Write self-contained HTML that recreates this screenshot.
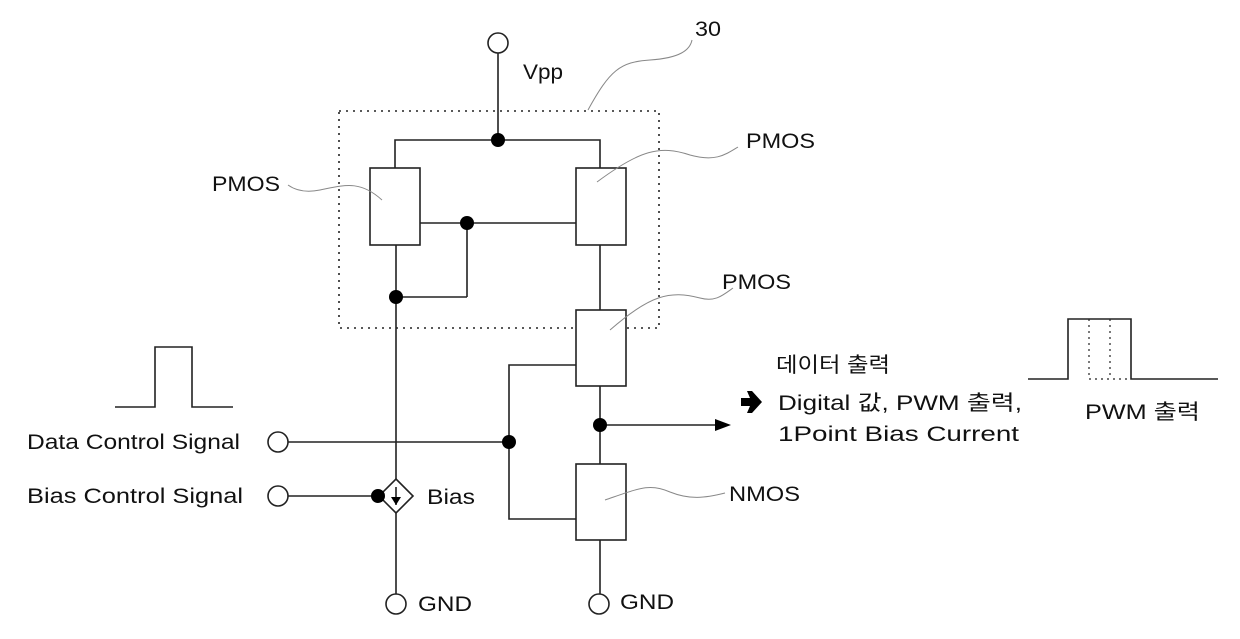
<!DOCTYPE html>
<html><head><meta charset="utf-8"><style>
html,body{margin:0;padding:0;background:#fff;}
svg{display:block}
text{font-family:"Liberation Sans","Noto Sans CJK KR",sans-serif;font-size:21px;fill:#111}
</style></head><body>
<svg width="1240" height="639" viewBox="0 0 1240 639" xmlns="http://www.w3.org/2000/svg">
<g fill="none" stroke="#222" stroke-width="1.6">
<rect x="339" y="111" width="320" height="217" stroke-dasharray="2,5"/>
<circle cx="498" cy="43" r="10" fill="#fff"/>
<line x1="498" y1="53" x2="498" y2="140"/>
<polyline points="395,168 395,140 600,140 600,168"/>
<rect x="370" y="168" width="50" height="77" fill="#fff"/>
<rect x="576" y="168" width="50" height="77" fill="#fff"/>
<line x1="420" y1="223" x2="576" y2="223"/>
<line x1="467" y1="223" x2="467" y2="297"/>
<line x1="396" y1="297" x2="467" y2="297"/>
<line x1="396" y1="245" x2="396" y2="594"/>
<line x1="600" y1="245" x2="600" y2="310"/>
<rect x="576" y="310" width="50" height="76" fill="#fff"/>
<line x1="600" y1="386" x2="600" y2="464"/>
<polyline points="576,365 509,365 509,519 576,519"/>
<rect x="576" y="464" width="50" height="76" fill="#fff"/>
<line x1="600" y1="540" x2="600" y2="594"/>
<circle cx="396" cy="604" r="10" fill="#fff"/>
<circle cx="599" cy="604" r="10" fill="#fff"/>
<circle cx="278" cy="442" r="10" fill="#fff"/>
<circle cx="278" cy="496" r="10" fill="#fff"/>
<line x1="288" y1="442" x2="509" y2="442"/>
<line x1="288" y1="496" x2="379" y2="496"/>
<polygon points="396,479 413,496 396,513 379,496" fill="#fff"/>
<line x1="396" y1="487" x2="396" y2="505"/>
<line x1="600" y1="425" x2="715" y2="425"/>
<polyline points="115,407 155,407 155,347 192,347 192,407 233,407"/>
<polyline points="1028,379 1068,379 1068,319 1131,319 1131,379 1218,379"/>
<g stroke-dasharray="2,4" stroke-width="1.2">
<line x1="1089" y1="319" x2="1089" y2="379"/>
<line x1="1110" y1="319" x2="1110" y2="379"/>
<line x1="1089" y1="379" x2="1131" y2="379"/>
</g>
</g>
<g fill="none" stroke="#888" stroke-width="1">
<path d="M588,110 C610,70 620,62 650,60 C680,58 690,50 692,40"/>
<path d="M382,200 C360,180 345,185 320,190 C305,193 295,190 288,185"/>
<path d="M597,182 C640,150 660,145 690,155 C715,162 725,155 738,147"/>
<path d="M610,330 C650,295 670,290 700,298 C715,302 722,296 733,288"/>
<path d="M605,500 C640,488 650,483 670,492 C690,500 705,498 725,493"/>
</g>
<g fill="#000">
<circle cx="498" cy="140" r="7"/>
<circle cx="467" cy="223" r="7"/>
<circle cx="396" cy="297" r="7"/>
<circle cx="509" cy="442" r="7"/>
<circle cx="600" cy="425" r="7"/>
<circle cx="378" cy="496" r="7"/>
<polygon points="715,419 731,425 715,431"/>
<polygon points="391,497 401,497 396,505"/>
<path d="M741,398 h9 l-3,-7 h5 l10,11 l-10,11 h-5 l3,-7 h-9 z"/>
</g>
<text x="523" y="79" textLength="40" lengthAdjust="spacingAndGlyphs">Vpp</text>
<text x="695" y="36" textLength="26" lengthAdjust="spacingAndGlyphs">30</text>
<text x="212" y="191" textLength="68" lengthAdjust="spacingAndGlyphs">PMOS</text>
<text x="746" y="148" textLength="69" lengthAdjust="spacingAndGlyphs">PMOS</text>
<text x="722" y="289" textLength="69" lengthAdjust="spacingAndGlyphs">PMOS</text>
<text x="729" y="501" textLength="71" lengthAdjust="spacingAndGlyphs">NMOS</text>
<text x="427" y="504" textLength="48" lengthAdjust="spacingAndGlyphs">Bias</text>
<text x="418" y="611" textLength="54" lengthAdjust="spacingAndGlyphs">GND</text>
<text x="620" y="609" textLength="54" lengthAdjust="spacingAndGlyphs">GND</text>
<text x="27" y="449" textLength="213" lengthAdjust="spacingAndGlyphs">Data Control Signal</text>
<text x="27" y="503" textLength="216" lengthAdjust="spacingAndGlyphs">Bias Control Signal</text>
<text x="776" y="372" textLength="114" lengthAdjust="spacingAndGlyphs">데이터 출력</text>
<text x="778" y="410" textLength="244" lengthAdjust="spacingAndGlyphs">Digital 값, PWM 출력,</text>
<text x="778" y="441" textLength="241" lengthAdjust="spacingAndGlyphs">1Point Bias Current</text>
<text x="1085" y="419" textLength="115" lengthAdjust="spacingAndGlyphs">PWM 출력</text>
</svg>
</body></html>
